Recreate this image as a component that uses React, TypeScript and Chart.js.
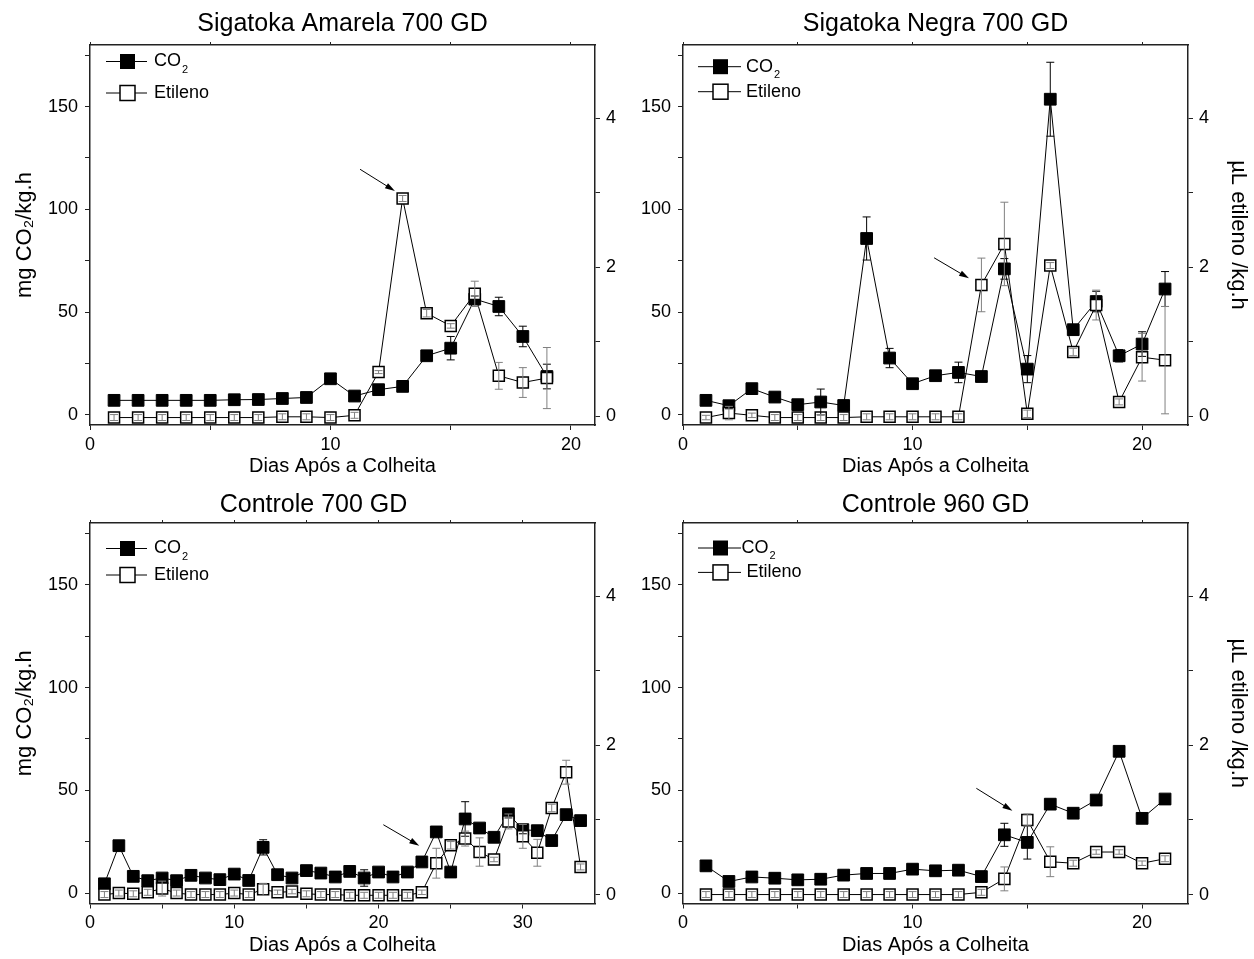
import React, { useEffect, useRef } from 'react';
import { Chart, registerables } from 'chart.js';

Chart.register(...registerables);

const FONT = "'Liberation Sans', Arial, Helvetica, sans-serif";

// ---------- Sigatoka Amarela 700 GD ----------
const saDays = [1, 2, 3, 4, 5, 6, 7, 8, 9, 10, 11, 12, 13, 14, 15, 16, 17, 18, 19];
const saCO2 = [7.0, 7.0, 7.0, 7.0, 7.0, 7.3, 7.4, 7.9, 8.4, 17.5, 9.1, 12.2, 13.8, 28.7, 32.4, 56.3, 52.7, 38.1, 18.6];
const saCO2Err = [0.5, 0.5, 0.5, 0.5, 0.5, 0.5, 0.5, 0.8, 0.8, 1, 1, 1.5, 1, 1.2, 5.7, 1.5, 4.5, 5, 6];
const saEth = [-0.02, -0.02, -0.02, -0.02, -0.02, -0.02, -0.02, -0.01, -0.01, -0.02, 0.01, 0.59, 2.92, 1.38, 1.21, 1.64, 0.54, 0.45, 0.51];
const saEthErr = [0.04, 0.04, 0.04, 0.04, 0.04, 0.04, 0.04, 0.04, 0.04, 0.04, 0.04, 0.02, 0.04, 0.05, 0.03, 0.17, 0.18, 0.2, 0.41];
const saArrow = [11.23, 119.5, 12.68, 108.9];

// ---------- Sigatoka Negra 700 GD ----------
const snDays = [1, 2, 3, 4, 5, 6, 7, 8, 9, 10, 11, 12, 13, 14, 15, 16, 17, 18, 19, 20, 21];
const snCO2 = [7.0, 4.4, 12.7, 8.6, 4.9, 6.2, 4.5, 85.8, 27.6, 15.1, 19.0, 20.6, 18.6, 71.0, 22.2, 153.6, 41.4, 55.1, 28.7, 34.4, 61.2];
const snCO2Err = [0.5, 1.5, 0.8, 0.8, 0.5, 6.3, 0.5, 10.5, 4.7, 1.5, 1, 5, 1.5, 5, 6.6, 18, 1, 5, 3, 6, 8.5];
const snEth = [-0.02, 0.04, 0.01, -0.02, -0.02, -0.02, -0.02, -0.01, -0.01, -0.01, -0.01, -0.01, 1.76, 2.31, 0.03, 2.02, 0.86, 1.49, 0.19, 0.79, 0.75];
const snEthErr = [0.03, 0.09, 0.03, 0.04, 0.04, 0.04, 0.04, 0.04, 0.04, 0.04, 0.04, 0.04, 0.36, 0.56, 0.05, 0.04, 0.05, 0.2, 0.04, 0.32, 0.72];
const snArrow = [10.94, 76.4, 12.46, 66.4];

// ---------- Controle 700 GD ----------
const c7Days = [1, 2, 3, 4, 5, 6, 7, 8, 9, 10, 11, 12, 13, 14, 15, 16, 17, 18, 19, 20, 21, 22, 23, 24, 25, 26, 27, 28, 29, 30, 31, 32, 33, 34];
const c7CO2 = [4.6, 23.1, 8.2, 6.1, 7.4, 6.1, 8.7, 7.4, 6.6, 9.3, 6.2, 22.3, 9.0, 7.4, 11.0, 9.8, 7.9, 10.6, 7.4, 10.3, 7.9, 10.3, 15.2, 29.8, 10.3, 36.1, 31.7, 27.2, 38.6, 30.9, 30.4, 25.6, 38.2, 35.3];
const c7CO2Err = [0.5, 1, 0.5, 0.5, 1, 0.5, 0.5, 0.5, 0.5, 0.5, 0.5, 3.7, 0.5, 0.5, 0.5, 0.5, 0.5, 0.5, 4, 0.5, 0.5, 0.5, 2, 1, 0.5, 8.4, 0.5, 0.5, 2, 2, 0.5, 0.5, 1, 2];
const c7Eth = [0.0, 0.02, 0.01, 0.03, 0.08, 0.02, 0.0, 0.0, 0.0, 0.02, 0.0, 0.07, 0.03, 0.04, 0.01, 0.0, 0.0, -0.01, -0.01, -0.01, -0.01, -0.01, 0.03, 0.42, 0.66, 0.75, 0.57, 0.47, 0.98, 0.78, 0.56, 1.16, 1.64, 0.37];
const c7EthErr = [0.04, 0.04, 0.04, 0.04, 0.1, 0.04, 0.04, 0.04, 0.04, 0.04, 0.04, 0.08, 0.03, 0.03, 0.04, 0.04, 0.04, 0.04, 0.04, 0.04, 0.04, 0.04, 0.03, 0.2, 0.05, 0.1, 0.19, 0.03, 0.1, 0.16, 0.18, 0.05, 0.16, 0.04];
const c7Arrow = [20.33, 33.3, 22.82, 23.1];

// ---------- Controle 960 GD ----------
const c9Days = [1, 2, 3, 4, 5, 6, 7, 8, 9, 10, 11, 12, 13, 14, 15, 16, 17, 18, 19, 20, 21];
const c9CO2 = [13.3, 5.7, 7.9, 7.3, 6.5, 6.8, 8.8, 9.6, 9.6, 11.7, 10.9, 11.2, 8.1, 28.4, 24.7, 43.3, 38.9, 45.3, 69.0, 36.4, 45.8];
const c9CO2Err = [0.5, 0.5, 0.5, 0.5, 0.5, 0.5, 0.5, 0.5, 0.5, 0.5, 0.5, 0.5, 0.5, 5.6, 8.1, 0.5, 0.5, 0.5, 0.5, 0.5, 0.5];
const c9Eth = [0.0, 0.0, 0.0, 0.0, 0.0, 0.0, 0.0, 0.0, 0.0, 0.0, 0.0, 0.0, 0.03, 0.21, 1.0, 0.44, 0.42, 0.57, 0.57, 0.42, 0.48];
const c9EthErr = [0.04, 0.04, 0.04, 0.04, 0.04, 0.04, 0.04, 0.04, 0.04, 0.04, 0.04, 0.04, 0.04, 0.16, 0.08, 0.2, 0.04, 0.03, 0.03, 0.03, 0.04];
const c9Arrow = [12.78, 51.0, 14.35, 40.1];

// ---------- axes ----------
const xTicks21 = [0, 5, 10, 15, 20];
const xTicks35 = [0, 5, 10, 15, 20, 25, 30];
const xLabels20 = [0, 10, 20];
const xLabels30 = [0, 10, 20, 30];
const co2Ticks = [0, 25, 50, 75, 100, 125, 150, 175];
const co2Labels = [0, 50, 100, 150];
const ethTicks = [0, 1, 2, 3, 4];
const ethLabels = [0, 2, 4];

const X_TITLE = 'Dias Após a Colheita';
const Y_TITLE = 'mg CO₂/kg.h';
const Y2_TITLE = 'µL etileno /kg.h';

const PANELS = [
  {
    title: 'Sigatoka Amarela 700 GD', titleFull: false, left: 0, top: 0, width: 627, height: 479,
    leftW: 90, rightW: 32, bottomH: 54, titlePad: { top: 9.5, bottom: 5.5 }, xTitlePad: 1,
    xMax: 21, xTicks: xTicks21, xLabels: xLabels20,
    days: saDays, co2: saCO2, co2Err: saCO2Err, eth: saEth, ethErr: saEthErr, arrow: saArrow,
    leftTitle: true, rightTitle: false,
    legend: { rows: [16.5, 48], text: [64, 64], line: [16, 57], marker: 37.5 },
  },
  {
    title: 'Sigatoka Negra 700 GD', titleFull: false, left: 627, top: 0, width: 627, height: 479,
    leftW: 56, rightW: 66, bottomH: 54, titlePad: { top: 9.5, bottom: 5.5 }, xTitlePad: 1,
    xMax: 22, xTicks: xTicks21, xLabels: xLabels20,
    days: snDays, co2: snCO2, co2Err: snCO2Err, eth: snEth, ethErr: snEthErr, arrow: snArrow,
    leftTitle: false, rightTitle: true,
    legend: { rows: [21.7, 46.7], text: [63, 63], line: [15, 58], marker: 37.5 },
  },
  {
    title: 'Controle 700 GD', titleFull: true, left: 0, top: 478, width: 627, height: 481,
    leftW: 90, rightW: 32, bottomH: 55.5, titlePad: { top: 12, bottom: 3 }, xTitlePad: 2,
    xMax: 35, xTicks: xTicks35, xLabels: xLabels30,
    days: c7Days, co2: c7CO2, co2Err: c7CO2Err, eth: c7Eth, ethErr: c7EthErr, arrow: c7Arrow,
    leftTitle: true, rightTitle: false,
    legend: { rows: [25.5, 52], text: [64, 64], line: [16, 57], marker: 37.5 },
  },
  {
    title: 'Controle 960 GD', titleFull: false, left: 627, top: 478, width: 627, height: 481,
    leftW: 56, rightW: 66, bottomH: 55.5, titlePad: { top: 12, bottom: 3 }, xTitlePad: 2,
    xMax: 22, xTicks: xTicks21, xLabels: xLabels20,
    days: c9Days, co2: c9CO2, co2Err: c9CO2Err, eth: c9Eth, ethErr: c9EthErr, arrow: c9Arrow,
    leftTitle: false, rightTitle: true,
    legend: { rows: [25, 49.4], text: [58.5, 63.4], line: [15, 58], marker: 37.5 },
  },
];

const FRAME = '#222';

const errorBarPlugin = {
  id: 'errorBars',
  afterDatasetsDraw(chart: any) {
    const ctx = chart.ctx;
    chart.data.datasets.forEach((ds: any, i: number) => {
      const meta = chart.getDatasetMeta(i);
      const ys = chart.scales[ds.yAxisID];
      ctx.save();
      ctx.strokeStyle = ds.errorColor;
      ctx.lineWidth = 1;
      meta.data.forEach((pt: any, j: number) => {
        const v = ds.data[j].y;
        const e = ds.errors[j];
        const x = pt.x;
        const yTop = ys.getPixelForValue(v + e);
        const yBot = ys.getPixelForValue(v - e);
        ctx.beginPath();
        ctx.moveTo(x, yTop);
        ctx.lineTo(x, yBot);
        ctx.moveTo(x - 4, yTop);
        ctx.lineTo(x + 4, yTop);
        ctx.moveTo(x - 4, yBot);
        ctx.lineTo(x + 4, yBot);
        ctx.stroke();
      });
      ctx.restore();
    });
  },
};

const decorPlugin = {
  id: 'decor',
  afterDraw(chart: any) {
    const cfg = chart.options.plugins.decor;
    const ctx = chart.ctx;
    const area = chart.chartArea;
    const xs = chart.scales.x;
    const ys = chart.scales.y;
    // arrow
    const [ax0, ay0, ax1, ay1] = cfg.arrow;
    const x0 = xs.getPixelForValue(ax0);
    const y0 = ys.getPixelForValue(ay0);
    const x1 = xs.getPixelForValue(ax1);
    const y1 = ys.getPixelForValue(ay1);
    ctx.save();
    ctx.strokeStyle = '#000';
    ctx.fillStyle = '#000';
    ctx.lineWidth = 1;
    const ang = Math.atan2(y1 - y0, x1 - x0);
    const hl = 10;
    const hw = 3;
    ctx.beginPath();
    ctx.moveTo(x0, y0);
    ctx.lineTo(x1 - Math.cos(ang) * hl * 0.8, y1 - Math.sin(ang) * hl * 0.8);
    ctx.stroke();
    ctx.beginPath();
    ctx.moveTo(x1, y1);
    ctx.lineTo(x1 - Math.cos(ang) * hl - Math.sin(ang) * hw, y1 - Math.sin(ang) * hl + Math.cos(ang) * hw);
    ctx.lineTo(x1 - Math.cos(ang) * hl + Math.sin(ang) * hw, y1 - Math.sin(ang) * hl - Math.cos(ang) * hw);
    ctx.closePath();
    ctx.fill();

    // legend
    const lg = cfg.legend;
    const half = 7.5;
    ctx.textBaseline = 'middle';
    ctx.textAlign = 'left';
    lg.rows.forEach((r: number, k: number) => {
      const y = area.top + r;
      ctx.beginPath();
      ctx.lineWidth = 1;
      ctx.strokeStyle = '#000';
      ctx.moveTo(area.left + lg.line[0], y);
      ctx.lineTo(area.left + lg.line[1], y);
      ctx.stroke();
      const mx = area.left + lg.marker;
      if (k === 0) {
        ctx.fillStyle = '#000';
        ctx.fillRect(mx - half, y - half, half * 2, half * 2);
      } else {
        ctx.fillStyle = '#fff';
        ctx.fillRect(mx - half, y - half, half * 2, half * 2);
        ctx.lineWidth = 1.5;
        ctx.strokeRect(mx - half, y - half, half * 2, half * 2);
      }
      ctx.fillStyle = '#000';
      ctx.font = `18px ${FONT}`;
      const tx = area.left + lg.text[k];
      if (k === 0) {
        ctx.fillText('CO', tx, y);
        const w = ctx.measureText('CO').width;
        ctx.font = `11px ${FONT}`;
        ctx.fillText('2', tx + w + 1, y + 8);
      } else {
        ctx.fillText('Etileno', tx, y);
      }
    });
    ctx.restore();
  },
};

function buildChart(canvas: HTMLCanvasElement, p: any) {
  const co2Pts = p.days.map((d: number, i: number) => ({ x: d, y: p.co2[i] }));
  const ethPts = p.days.map((d: number, i: number) => ({ x: d, y: p.eth[i] }));
  const tickFont = { family: FONT, size: 18 };
  const setTicks = (vals: number[]) => (s: any) => {
    s.ticks = vals.map((v) => ({ value: v }));
  };
  return new Chart(canvas, {
    type: 'line',
    data: {
      datasets: [
        {
          label: 'CO2',
          data: co2Pts,
          xAxisID: 'x',
          yAxisID: 'y',
          borderColor: '#000',
          backgroundColor: '#000',
          borderWidth: 1,
          pointStyle: 'rect',
          pointRadius: 8.3,
          pointBackgroundColor: '#000',
          pointBorderColor: '#000',
          pointBorderWidth: 1,
          tension: 0,
          order: 2,
          errors: p.co2Err,
          errorColor: '#000',
        } as any,
        {
          label: 'Etileno',
          data: ethPts,
          xAxisID: 'x',
          yAxisID: 'y2',
          borderColor: '#000',
          backgroundColor: '#fff',
          borderWidth: 1,
          pointStyle: 'rect',
          pointRadius: 7.8,
          pointBackgroundColor: '#fff',
          pointBorderColor: '#000',
          pointBorderWidth: 1.5,
          tension: 0,
          order: 1,
          errors: p.ethErr,
          errorColor: '#808080',
        } as any,
      ],
    },
    options: {
      responsive: false,
      animation: false,
      layout: { padding: 0 },
      plugins: {
        legend: { display: false },
        tooltip: { enabled: false },
        title: {
          display: true,
          text: p.title,
          color: '#000',
          font: { family: FONT, size: 25, weight: 'normal' as any, lineHeight: 1.2 },
          padding: p.titlePad,
          fullSize: p.titleFull,
        },
        decor: { arrow: p.arrow, legend: p.legend },
      } as any,
      scales: {
        x: {
          type: 'linear',
          position: 'bottom',
          min: 0,
          max: p.xMax,
          afterBuildTicks: setTicks(p.xTicks),
          afterFit: (s: any) => { s.height = p.bottomH; },
          ticks: {
            autoSkip: false,
            maxRotation: 0,
            padding: 4,
            color: '#000',
            font: tickFont,
            callback: (v: any) => (p.xLabels.includes(v) ? String(v) : ''),
          },
          grid: { drawOnChartArea: false, drawTicks: true, tickLength: 5, color: FRAME, lineWidth: 1 },
          border: { display: true, color: FRAME, width: 1.5 },
          title: {
            display: true,
            text: X_TITLE,
            color: '#000',
            font: { family: FONT, size: 20, lineHeight: 1.2 },
            padding: { top: 0, bottom: p.xTitlePad },
          },
        },
        x2: {
          type: 'linear',
          position: 'top',
          min: 0,
          max: p.xMax,
          afterBuildTicks: setTicks(p.xTicks),
          afterFit: (s: any) => { s.height = 0; },
          ticks: { display: false },
          grid: { drawOnChartArea: false, drawTicks: true, tickLength: 3, color: FRAME, lineWidth: 1 },
          border: { display: true, color: FRAME, width: 1.5 },
        },
        y: {
          type: 'linear',
          position: 'left',
          min: -5,
          max: 180,
          afterBuildTicks: setTicks(co2Ticks),
          afterFit: (s: any) => { s.width = p.leftW; },
          ticks: {
            autoSkip: false,
            padding: 7,
            color: '#000',
            font: tickFont,
            callback: (v: any) => (co2Labels.includes(v) ? String(v) : ''),
          },
          grid: { drawOnChartArea: false, drawTicks: true, tickLength: 5, color: FRAME, lineWidth: 1 },
          border: { display: true, color: FRAME, width: 1.5 },
          title: {
            display: p.leftTitle,
            text: Y_TITLE,
            color: '#000',
            font: { family: FONT, size: 22, lineHeight: 1.2 },
            padding: { top: 12, bottom: 0 },
          },
        },
        y2: {
          type: 'linear',
          position: 'right',
          min: -0.12,
          max: 4.98,
          afterBuildTicks: setTicks(ethTicks),
          afterFit: (s: any) => { s.width = p.rightW; },
          ticks: {
            autoSkip: false,
            padding: 6,
            color: '#000',
            font: tickFont,
            callback: (v: any) => (ethLabels.includes(v) ? String(v) : ''),
          },
          grid: { drawOnChartArea: false, drawTicks: true, tickLength: 5, color: FRAME, lineWidth: 1 },
          border: { display: true, color: FRAME, width: 1.5 },
          title: {
            display: p.rightTitle,
            text: Y2_TITLE,
            color: '#000',
            font: { family: FONT, size: 22, lineHeight: 1.2 },
            padding: { top: 3, bottom: 0 },
          },
        },
      },
    } as any,
    plugins: [errorBarPlugin, decorPlugin],
  });
}

function Panel({ p }: { p: any }) {
  const ref = useRef<HTMLCanvasElement | null>(null);
  useEffect(() => {
    if (!ref.current) return;
    const chart = buildChart(ref.current, p);
    return () => chart.destroy();
  }, [p]);
  return (
    <canvas
      ref={ref}
      width={p.width}
      height={p.height}
      style={{ position: 'absolute', left: p.left, top: p.top, width: p.width, height: p.height }}
    />
  );
}

export default function App() {
  return (
    <div style={{ position: 'absolute', left: 0, top: 0, width: 1254, height: 959, background: '#fff' }}>
      {PANELS.map((p, i) => (
        <Panel key={i} p={p} />
      ))}
    </div>
  );
}
